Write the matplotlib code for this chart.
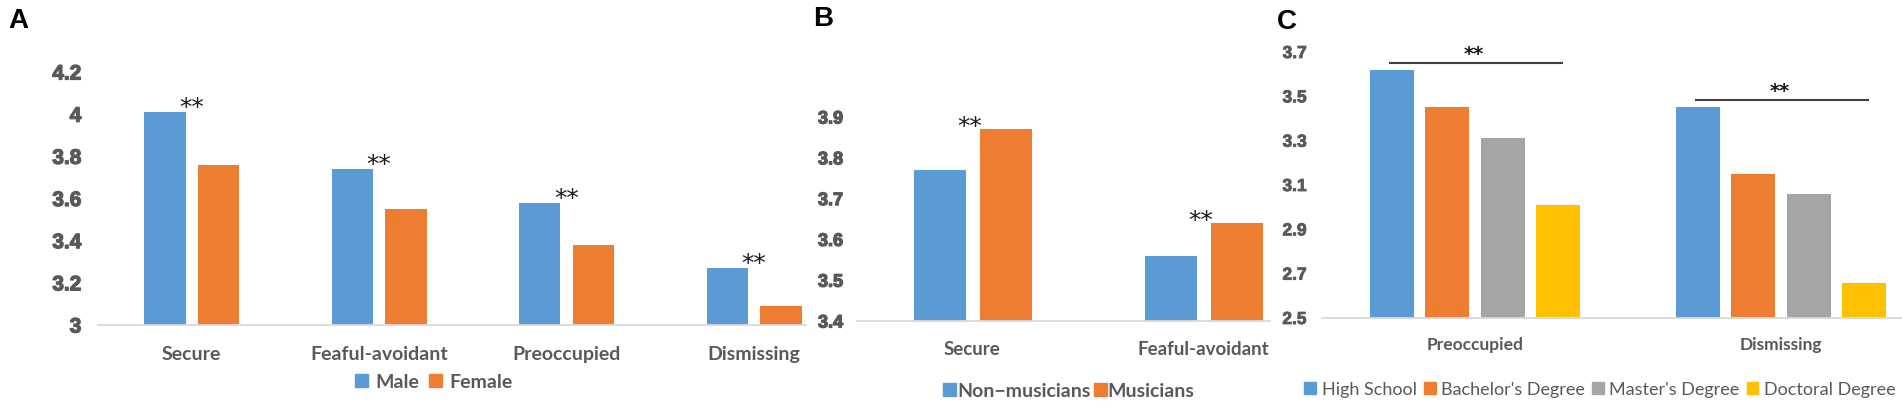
import matplotlib
matplotlib.use('Agg')
import matplotlib.pyplot as plt
import matplotlib.patheffects as pe
from matplotlib.patches import Patch
import numpy as np

# ---------------- data ----------------
a_categories = ['Secure', 'Feaful-avoidant', 'Preoccupied', 'Dismissing']
a_male = [4.01, 3.74, 3.58, 3.27]
a_female = [3.76, 3.55, 3.38, 3.09]
a_yticks = [3, 3.2, 3.4, 3.6, 3.8, 4, 4.2]
a_yticklabels = ['3', '3.2', '3.4', '3.6', '3.8', '4', '4.2']

b_categories = ['Secure', 'Feaful-avoidant']
b_nonmusicians = [3.77, 3.56]
b_musicians = [3.87, 3.64]
b_yticks = [3.4, 3.5, 3.6, 3.7, 3.8, 3.9]
b_yticklabels = ['3.4', '3.5', '3.6', '3.7', '3.8', '3.9']

c_categories = ['Preoccupied', 'Dismissing']
c_high_school = [3.62, 3.45]
c_bachelor = [3.45, 3.15]
c_master = [3.31, 3.06]
c_doctoral = [3.01, 2.66]
c_yticks = [2.5, 2.7, 2.9, 3.1, 3.3, 3.5, 3.7]
c_yticklabels = ['2.5', '2.7', '2.9', '3.1', '3.3', '3.5', '3.7']
c_bracket_y = [3.65, 3.483]

# ---------------- style ----------------
BLUE = '#5B9BD5'
ORANGE = '#ED7D31'
GRAY = '#A5A5A5'
YELLOW = '#FFC000'
TXT = '#595959'
SPINE = '#D9D9D9'
LAB = ['Lato', 'DejaVu Sans']
NUM = ['Liberation Sans', 'DejaVu Sans']
NARROW = ['Liberation Sans Narrow', 'Liberation Sans', 'DejaVu Sans']
LET = ['Liberation Sans', 'DejaVu Sans']

W, H = 1902, 410
fig = plt.figure(figsize=(W / 100, H / 100), dpi=100)


def px_axes(l, r, yb, yt):
    return fig.add_axes([l / W, (H - yb) / H, (r - l) / W, (yb - yt) / H])


def style(ax, yt, ytl, ysize, xt, xtl, xsize, ypad, xpad, yfam=NUM, xweight='bold', stroke=0.9):
    for s in ['left', 'right', 'top']:
        ax.spines[s].set_visible(False)
    ax.spines['bottom'].set_color(SPINE)
    ax.spines['bottom'].set_linewidth(1.3)
    ax.tick_params(axis='both', length=0, colors=TXT)
    ax.tick_params(axis='y', pad=ypad)
    ax.tick_params(axis='x', pad=xpad)
    ax.set_yticks(yt)
    ax.set_yticklabels(ytl, fontfamily=yfam, fontsize=ysize, fontweight='bold', color=TXT)
    ax.set_xticks(xt)
    ax.set_xticklabels(xtl, fontfamily=LAB, fontsize=xsize, fontweight=xweight, color=TXT)
    for t in ax.get_yticklabels():
        t.set_path_effects([pe.withStroke(linewidth=stroke, foreground=TXT)])
    ax.patch.set_alpha(0)


def stars(ax, x, y, dy, size=18, weight='normal'):
    ax.annotate('**', xy=(x, y), xytext=(0, dy), textcoords='offset pixels',
                ha='center', va='center', fontsize=size, fontweight=weight,
                color='#1a1a1a', family='DejaVu Sans', annotation_clip=False)


# ---------------- Panel A ----------------
axA = px_axes(98, 806, 326, 73)
xa = np.arange(len(a_categories))
axA.bar(xa - 0.143, a_male, width=0.22, color=BLUE, label='Male')
axA.bar(xa + 0.143, a_female, width=0.22, color=ORANGE, label='Female')
axA.set_ylim(3, 4.2)
axA.set_xlim(-0.5, 3.277)
style(axA, a_yticks, a_yticklabels, 15, xa, a_categories, 14, 12, 14.5)
for i in range(len(a_categories)):
    stars(axA, xa[i], max(a_male[i], a_female[i]), 5)

# ---------------- Panel B ----------------
axB = px_axes(857, 1270, 322, 118)
xb = np.arange(len(b_categories))
axB.bar(xb - 0.139, b_nonmusicians, width=0.225, color=BLUE)
axB.bar(xb + 0.145, b_musicians, width=0.225, color=ORANGE)
axB.set_ylim(3.4, 3.9)
axB.set_xlim(-0.5, 1.29)
style(axB, b_yticks, b_yticklabels, 13, xb, b_categories, 13.5, 10, 13.5)
for i in range(len(b_categories)):
    stars(axB, xb[i] - 0.01, max(b_nonmusicians[i], b_musicians[i]), 3)

# ---------------- Panel C ----------------
axC = px_axes(1322, 1902, 319, 53)
xc = np.arange(len(c_categories))
axC.bar(xc - 0.271, c_high_school, width=0.144, color=BLUE)
axC.bar(xc - 0.091, c_bachelor, width=0.144, color=ORANGE)
axC.bar(xc + 0.091, c_master, width=0.144, color=GRAY)
axC.bar(xc + 0.271, c_doctoral, width=0.144, color=YELLOW)
axC.set_ylim(2.5, 3.7)
axC.set_xlim(-0.5, 1.395)
style(axC, c_yticks, c_yticklabels, 12.5, xc, c_categories, 12.5, 11, 13, yfam=NARROW, stroke=0.6)
for i in range(len(c_categories)):
    axC.plot([xc[i] - 0.28, xc[i] + 0.287], [c_bracket_y[i], c_bracket_y[i]],
             color='#404040', lw=1.5, clip_on=False, solid_capstyle='butt')
    axC.annotate('**', xy=(xc[i], c_bracket_y[i]), xytext=(-1, 10),
                 textcoords='offset pixels', ha='center', va='center',
                 fontsize=14, fontweight='bold', color='#1a1a1a',
                 family='DejaVu Sans', annotation_clip=False)

# ---------------- legends ----------------
def leg(handles, labels, cx, cy, size, weight, hpad, cspace):
    fig.legend(handles, labels, loc='center', bbox_to_anchor=(cx / W, 1 - cy / H),
               ncol=len(labels), frameon=False, handlelength=0.65, handleheight=0.65,
               handletextpad=hpad, columnspacing=cspace, borderpad=0, borderaxespad=0,
               labelcolor=TXT, prop={'family': LAB, 'size': size, 'weight': weight})

leg([Patch(color=BLUE), Patch(color=ORANGE)], ['Male', 'Female'], 434, 383, 14, 'bold', 0.4, 0.5)
leg([Patch(color=BLUE), Patch(color=ORANGE)], ['Non\u2212musicians', 'Musicians'], 1069, 392, 14, 'bold', 0.05, 0.2)
leg([Patch(color=BLUE), Patch(color=ORANGE), Patch(color=GRAY), Patch(color=YELLOW)],
    ['High School', "Bachelor's Degree", "Master's Degree", 'Doctoral Degree'],
    1600, 390, 13, 'normal', 0.3, 0.4)

# ---------------- panel letters ----------------
fig.text(8 / W, 1 - 8 / H, 'A', fontsize=20, fontweight='bold', family=LET, va='top', ha='left')
fig.text(813 / W, 1 - 6 / H, 'B', fontsize=20, fontweight='bold', family=LET, va='top', ha='left')
fig.text(1277 / W, 1 - 9 / H, 'C', fontsize=20, fontweight='bold', family=LET, va='top', ha='left')

fig.savefig('out.png', dpi=100)
